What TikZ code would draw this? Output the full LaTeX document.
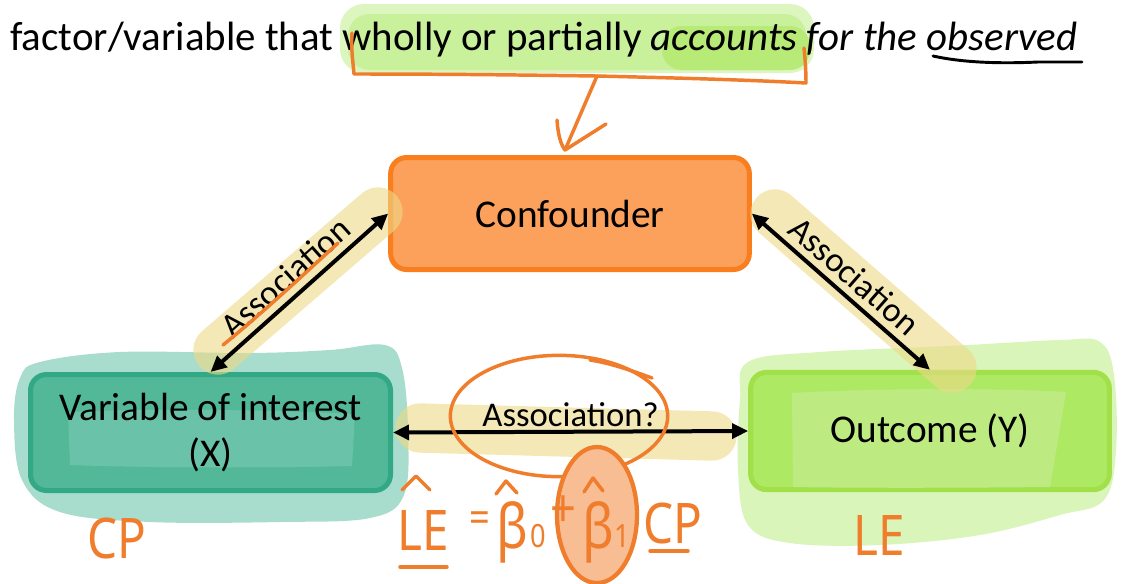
\documentclass[tikz,border=0pt]{standalone}
\usepackage{fontspec}
\setmainfont{Carlito}
\newfontfamily\hand[FakeStretch=0.85]{Noto Sans}
\usetikzlibrary{arrows.meta}
\definecolor{confFill}{HTML}{FBA15C}
\definecolor{confLine}{HTML}{F97E1E}
\definecolor{varFill}{HTML}{52B898}
\definecolor{varLine}{HTML}{33A885}
\definecolor{varGlow}{HTML}{6AC3A8}
\definecolor{outFill}{HTML}{AEE964}
\definecolor{outLine}{HTML}{A1E049}
\definecolor{outGlow}{HTML}{BDEB82}
\definecolor{tealBlob}{HTML}{A8DCCC}
\definecolor{greenBlob}{HTML}{DAF5BA}
\definecolor{hlYellow}{HTML}{EED987}
\definecolor{hlGreenL}{HTML}{DDF6C0}
\definecolor{hlGreen}{HTML}{C9F09B}
\definecolor{hlGreenD}{HTML}{B7EA77}
\definecolor{ink}{HTML}{F07D2C}
\definecolor{inkFill}{HTML}{F9BD93}
\begin{document}
\begin{tikzpicture}[x=0.75pt,y=-0.75pt,
  box/.style={rounded corners=12pt, line width=3.75pt, align=center, inner sep=0pt,
    font=\fontsize{29.5}{34.5}\selectfont},
  assoc/.style={line width=3pt, {Triangle[length=12pt,width=11pt]}-{Triangle[length=12pt,width=11pt]}},
  lbl/.style={font=\fontsize{26}{30}\selectfont, inner sep=2pt},
  hl/.style={hlYellow, opacity=0.6, line width=37pt, line cap=round},
  inkline/.style={ink, line width=2.6pt, line cap=round, line join=round},
  inktext/.style={ink, inner sep=0pt}
]
\useasboundingbox (0,0) rectangle (1123,583);
\fill[white] (0,0) rectangle (1123,583);

% top highlight
\fill[hlGreenL, rounded corners=18pt] (340,4) rectangle (814,73);
\fill[hlGreen, rounded corners=16pt] (348,14) rectangle (806,70);
\fill[hlGreenD, rounded corners=15pt] (662,26) rectangle (810,70);

% top text
\node[anchor=base west, inner sep=0pt, font=\fontsize{30.7}{35}\selectfont] (title) at (10,50)
  {factor/variable that wholly or partially \textit{accounts for the observed}};

% blobs
\fill[tealBlob] plot[smooth cycle, tension=0.6] coordinates {
  (40,362) (120,352) (250,353) (330,350) (385,345) (402,368) (408,430) (404,495)
  (370,518) (280,522) (150,522) (60,512) (22,480) (14,420) (20,378)};
\fill[greenBlob] plot[smooth cycle, tension=0.6] coordinates {
  (748,362) (820,352) (950,346) (1060,340) (1100,342) (1114,375) (1116,450) (1104,500)
  (1060,515) (980,535) (880,545) (790,543) (748,525) (738,470) (740,400)};

% boxes
\node[box, draw=confLine, fill=confFill, minimum width=269pt, minimum height=84pt] (conf) at (570,213.5) {Confounder};
\node[box, draw=varLine, fill=varFill, minimum width=270pt, minimum height=87pt] (var) at (210.5,432.5) {};
\fill[varGlow] (68,412) .. controls (150,408) and (280,410) .. (355,414) -- (352,466) .. controls (270,468) and (150,468) .. (70,465) -- cycle;
\node[box, draw=none, minimum width=270pt, minimum height=87pt] (vartext) at (210.5,432.5) {Variable of interest\\(X)};
\node[box, draw=outLine, fill=outFill, minimum width=269pt, minimum height=88pt] (out) at (930,431) {};
\fill[outGlow] (792,393) .. controls (880,388) and (1000,388) .. (1066,392) -- (1050,487) .. controls (950,488) and (850,488) .. (793,487) -- cycle;
\node[box, draw=none, minimum width=269pt, minimum height=88pt] (outtext) at (930,431) {Outcome (Y)};

% yellow highlighter strokes
\draw[hl] (218,350) -- (378,212);
\draw[hl] (775,214) -- (952,368);
\draw[hl] (420,428) -- (712,436);

% association arrows
\draw[assoc] (var.north) -- node[lbl, sloped, above=3pt] (l1) {Association} (conf.west);
\draw[assoc] (conf.east) -- node[lbl, sloped, above=3pt] (l2) {Association} (out.north);
\draw[assoc] (var.east) -- node[lbl, above=0pt] (l3) {Association?} (out.west);

% black underline under "observed"
\draw[line width=2.2pt, line cap=round] (933,56) .. controls (960,62) and (995,64) .. (1038,62) -- (1082,62);

% orange ink: brace and arrow
\draw[inkline] (352,33) .. controls (351,50) and (353,62) .. (354,74)
  .. controls (450,74) and (520,75) .. (597,76)
  .. controls (680,78) and (750,80) .. (806,83)
  .. controls (806,70) and (805,58) .. (804,48);
\draw[inkline] (597,76) -- (565,150);
\draw[inkline] (557,120) .. controls (558,135) and (561,145) .. (565,150) -- (606,124);

% orange underline of left Association
\draw[inkline] (223,345) .. controls (260,315) and (300,278) .. (338,243);

% ellipse around Association?
\draw[inkline] (559,416) ellipse [x radius=81.5pt, y radius=45.5pt];
\draw[inkline] (590,360) .. controls (610,363) and (630,370) .. (652,378);

% filled ellipse around beta_1
\draw[inkline, line width=3.2pt, fill=inkFill] (597,515) ellipse [x radius=30pt, y radius=51pt];

% equation
\node[inktext, anchor=base west, font=\fontsize{42}{46}\hand] (le) at (397,550) {LE};
\draw[inkline] (402,490) -- (416,476) -- (430,490);
\draw[inkline] (400,567) -- (447,567);
\node[inktext, font=\fontsize{32}{34}\hand] (eq) at (480,522) {=};
\node[inktext, anchor=base west, font=\fontsize{46}{50}\hand] (b0) at (496,548) {β};
\draw[inkline] (496,494) -- (506,481) -- (517,493);
\node[inktext, anchor=base west, font=\fontsize{24}{26}\hand] (s0) at (530,547) {0};
\node[inktext, font=\fontsize{40}{42}\hand] (plus) at (563,512) {+};
\node[inktext, anchor=base west, font=\fontsize{46}{50}\hand] (b1) at (582,548) {β};
\draw[inkline] (584,492) -- (593,478) -- (603,491);
\node[inktext, anchor=base west, font=\fontsize{24}{26}\hand] (s1) at (614,547) {1};
\node[inktext, anchor=base west, font=\fontsize{42}{46}\hand] (cp) at (643,543) {CP};
\draw[inkline] (650,551) -- (688,551);

% labels under boxes
\node[inktext, anchor=base west, font=\fontsize{42}{46}\hand] (cplbl) at (87,558) {CP};
\node[inktext, anchor=base west, font=\fontsize{42}{46}\hand] (lelbl) at (853,555) {LE};
\end{tikzpicture}
\end{document}
